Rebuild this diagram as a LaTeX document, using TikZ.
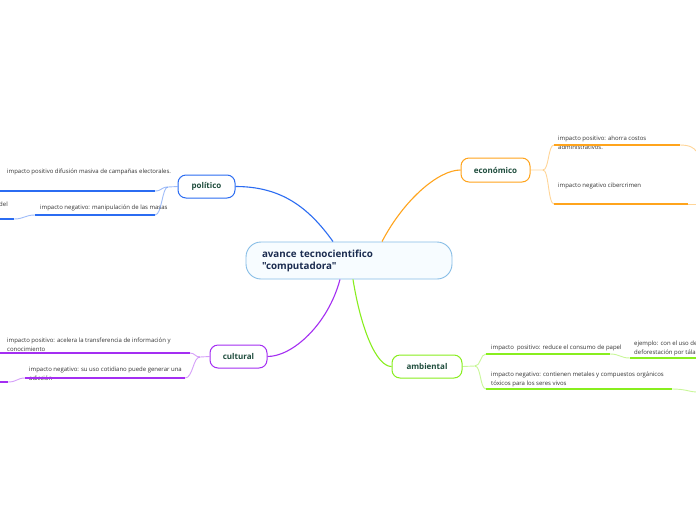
\documentclass[tikz,border=0pt]{standalone}
\usepackage{fontspec}
\setmainfont{Open Sans}[Ligatures=TeXOff]
\usetikzlibrary{positioning, calc}
\definecolor{polblue}{HTML}{2B6CF2}
\definecolor{ecoorange}{HTML}{FFA41C}
\definecolor{culpurple}{HTML}{A42EF2}
\definecolor{ambgreen}{HTML}{88EE1E}
\definecolor{coreblue}{HTML}{86BDE6}
\definecolor{corefill}{HTML}{F7FCFF}
\definecolor{corenavy}{HTML}{1B2C50}
\definecolor{topicgreen}{HTML}{1F4D3D}
\definecolor{leafgray}{HTML}{333333}

\begin{document}
\begin{tikzpicture}[x=1pt, y=-1pt,
    core/.style={draw=coreblue, fill=corefill, line width=0.9pt, rounded corners=15pt, minimum width=206pt, minimum height=37pt, text width=174pt, align=left, font=\bfseries\fontsize{9.8}{12}\selectfont, text=corenavy},
    topic/.style={draw, fill=white, line width=1pt, rounded corners=8pt, minimum height=23pt, font=\bfseries\fontsize{8}{9}\selectfont, text=topicgreen},
    leaf/.style={anchor=west, align=left, inner sep=0pt, font=\fontsize{6}{9}\selectfont, text=leafgray},
    bar/.style={line width=1.8pt},
    link/.style={line width=1.1pt},
    fade/.style={line width=0.9pt, opacity=0.45}]
  \fill[white] (0,0) rectangle (696,520);
  \useasboundingbox (0,0) rectangle (696,520);

  \node[core] (core) at (349,260.5) {avance tecnocientifico\\"computadora"};

  \node[topic, draw=polblue, minimum width=57pt] (pol) at (206.5,186.5) {político};
  \node[topic, draw=ecoorange, minimum width=69pt, minimum height=24pt] (eco) at (495.5,170) {económico};
  \node[topic, draw=culpurple, minimum width=57pt] (cul) at (238.5,356.5) {cultural};
  \node[topic, draw=ambgreen, minimum width=70pt] (amb) at (427,366.5) {ambiental};

  \draw[link, polblue] (pol.east) .. controls +(45,0) and +(-25,-35) .. ([xshift=-16pt]core.north);
  \draw[link, ecoorange] ([xshift=33pt]core.north) .. controls +(22,-42) and +(-22,0) .. (eco.west);
  \draw[link, culpurple] ([xshift=-9pt]core.south) .. controls +(-12,45) and +(25,0) .. (cul.east);
  \draw[link, ambgreen] ([xshift=4pt]core.south) .. controls +(8,50) and +(-15,0) .. (amb.west);

  \node[leaf] (polpos) at (7,172) {impacto positivo difusión masiva de campañas electorales.};
  \node[leaf] (polneg) at (40,208) {impacto negativo: manipulación de las masas};
  \node[leaf, anchor=east] (polcut) at (8,204) {del};
  \coordinate (pj) at (168,187);
  \coordinate (pp0) at (0,191);
  \coordinate (pp1) at (155,191);
  \coordinate (pn0) at (35,215);
  \coordinate (pn1) at (155,215);
  \coordinate (pn2) at (14,219);
  \coordinate (pn3) at (0,219);
  \draw[fade, polblue] (pol.west) -- (pj) .. controls (161,187) and (162,191) .. (pp1);
  \draw[fade, polblue] (pj) .. controls (162,187) and (162,215) .. (pn1);
  \draw[fade, polblue] (pn2) .. controls (24,219) and (25,215) .. (pn0);
  \draw[bar, polblue] (pp0) -- (pp1);
  \draw[bar, polblue] (pn0) -- (pn1);
  \draw[bar, polblue] (pn3) -- (pn2);

  \node[leaf] (ecopos) at (558,142.8) {impacto positivo: ahorra costos\\administrativos.};
  \node[leaf] (econeg) at (558,186) {impacto negativo cibercrimen};
  \coordinate (ej) at (543,170);
  \coordinate (ep0) at (554,145);
  \coordinate (ep1) at (680,145);
  \coordinate (ep2) at (696,151);
  \coordinate (en0) at (554,204);
  \coordinate (en1) at (688,204);
  \coordinate (en2) at (696,204);
  \draw[fade, ecoorange] (eco.east) -- (ej) .. controls (549,170) and (548,145) .. (ep0);
  \draw[fade, ecoorange] (ej) .. controls (549,170) and (548,204) .. (en0);
  \draw[fade, ecoorange] (ep1) .. controls (690,145) and (694,148) .. (ep2);
  \draw[fade, ecoorange] (en1) -- (en2);
  \draw[bar, ecoorange] (ep0) -- (ep1);
  \draw[bar, ecoorange] (en0) -- (en1);

  \node[leaf] (culpos) at (7,344.5) {impacto positivo: acelera la transferencia de información y\\conocimiento};
  \node[leaf] (culneg) at (29,373.5) {impacto negativo: su uso cotidiano puede generar una\\adicción};
  \coordinate (cj) at (200,357);
  \coordinate (cp0) at (0,353);
  \coordinate (cp1) at (190,353);
  \coordinate (cn0) at (25,378);
  \coordinate (cn1) at (185,378);
  \coordinate (cn2) at (8,382);
  \coordinate (cn3) at (0,382);
  \draw[fade, culpurple] (cul.west) -- (cj) .. controls (195,357) and (195,353) .. (cp1);
  \draw[fade, culpurple] (cj) .. controls (193,357) and (193,378) .. (cn1);
  \draw[fade, culpurple] (cn2) .. controls (17,382) and (17,378) .. (cn0);
  \draw[bar, culpurple] (cp0) -- (cp1);
  \draw[bar, culpurple] (cn0) -- (cn1);
  \draw[bar, culpurple] (cn3) -- (cn2);

  \node[leaf] (ambpos) at (491,348) {impacto~ positivo: reduce el consumo de papel};
  \node[leaf] (ambneg) at (491,379.5) {impacto negativo: contienen metales y compuestos orgánicos\\tóxicos para los seres vivos};
  \node[leaf] (ambex) at (634,348.5) {ejemplo: con el uso de\\deforestación por tála};
  \coordinate (aj) at (475,366);
  \coordinate (ap0) at (486,354);
  \coordinate (ap1) at (610,354);
  \coordinate (ax0) at (630,358);
  \coordinate (ax1) at (696,358);
  \coordinate (an0) at (486,389);
  \coordinate (an1) at (672,389);
  \coordinate (an2) at (696,392);
  \draw[fade, ambgreen] (amb.east) -- (aj) .. controls (481,366) and (480,354) .. (ap0);
  \draw[fade, ambgreen] (aj) .. controls (481,366) and (480,389) .. (an0);
  \draw[fade, ambgreen] (ap1) .. controls (620,354) and (620,358) .. (ax0);
  \draw[fade, ambgreen] (an1) .. controls (686,389) and (690,392) .. (an2);
  \draw[bar, ambgreen] (ap0) -- (ap1);
  \draw[bar, ambgreen] (ax0) -- (ax1);
  \draw[bar, ambgreen] (an0) -- (an1);
\end{tikzpicture}
\end{document}
